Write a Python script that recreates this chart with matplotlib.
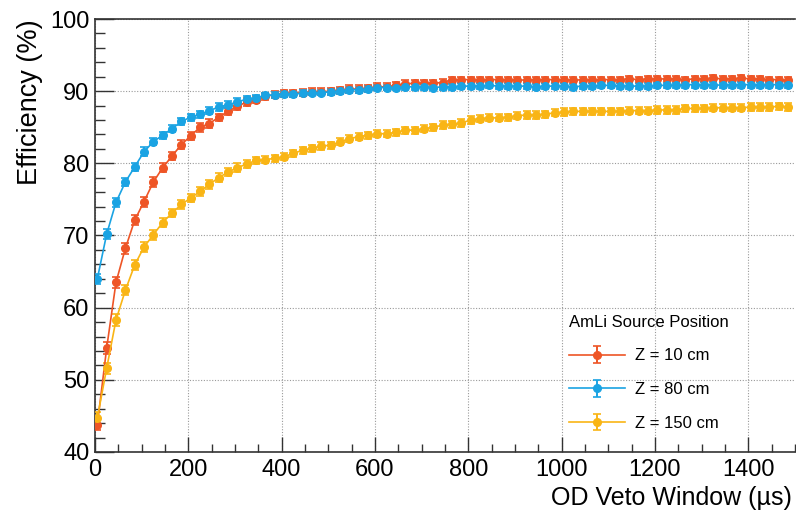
import matplotlib
matplotlib.use("Agg")
import matplotlib.pyplot as plt
from matplotlib.ticker import MultipleLocator

plt.rcParams['font.family'] = ['Liberation Sans', 'DejaVu Sans']

# ---- data ----
veto_window = [5, 25, 45, 65, 85, 105, 125, 145, 165, 185,
               205, 225, 245, 265, 285, 305, 325, 345, 365, 385,
               405, 425, 445, 465, 485, 505, 525, 545, 565, 585,
               605, 625, 645, 665, 685, 705, 725, 745, 765, 785,
               805, 825, 845, 865, 885, 905, 925, 945, 965, 985,
               1005, 1025, 1045, 1065, 1085, 1105, 1125, 1145, 1165, 1185,
               1205, 1225, 1245, 1265, 1285, 1305, 1325, 1345, 1365, 1385,
               1405, 1425, 1445, 1465, 1485]

eff_z10 = [43.8, 54.4, 63.5, 68.2, 72.1, 74.7, 77.4, 79.4, 81.0, 82.6,
           83.8, 85.0, 85.5, 86.4, 87.2, 87.9, 88.5, 88.8, 89.3, 89.5,
           89.7, 89.7, 89.8, 89.9, 89.9, 90.0, 90.1, 90.3, 90.3, 90.4,
           90.6, 90.6, 90.8, 91.0, 91.1, 91.1, 91.1, 91.2, 91.6, 91.6,
           91.6, 91.6, 91.6, 91.6, 91.6, 91.6, 91.5, 91.6, 91.6, 91.6,
           91.6, 91.5, 91.6, 91.6, 91.6, 91.6, 91.6, 91.7, 91.6, 91.7,
           91.7, 91.7, 91.7, 91.6, 91.7, 91.7, 91.8, 91.7, 91.7, 91.8,
           91.7, 91.7, 91.6, 91.6, 91.5]

eff_z80 = [64.0, 70.2, 74.6, 77.4, 79.5, 81.6, 83.0, 83.9, 84.8, 85.8,
           86.4, 86.8, 87.3, 87.8, 88.1, 88.5, 88.9, 89.1, 89.4, 89.5,
           89.6, 89.6, 89.7, 89.8, 89.8, 89.9, 90.0, 90.2, 90.2, 90.3,
           90.5, 90.5, 90.5, 90.6, 90.6, 90.6, 90.5, 90.6, 90.6, 90.7,
           90.7, 90.7, 90.8, 90.7, 90.7, 90.7, 90.7, 90.6, 90.7, 90.7,
           90.7, 90.6, 90.7, 90.7, 90.8, 90.8, 90.7, 90.7, 90.7, 90.7,
           90.8, 90.8, 90.8, 90.9, 90.9, 90.9, 90.9, 90.8, 90.9, 90.9,
           90.9, 90.9, 90.9, 90.9, 90.9]

eff_z150 = [44.7, 51.6, 58.3, 62.4, 65.9, 68.4, 70.1, 71.8, 73.1, 74.3,
            75.2, 76.1, 77.1, 78.0, 78.8, 79.4, 79.9, 80.4, 80.5, 80.7,
            80.9, 81.4, 81.8, 82.1, 82.4, 82.5, 83.0, 83.4, 83.7, 83.9,
            84.1, 84.1, 84.3, 84.6, 84.6, 84.8, 85.0, 85.3, 85.4, 85.6,
            86.0, 86.2, 86.3, 86.3, 86.4, 86.6, 86.7, 86.7, 86.8, 87.0,
            87.1, 87.2, 87.2, 87.2, 87.2, 87.2, 87.2, 87.3, 87.3, 87.3,
            87.4, 87.4, 87.4, 87.6, 87.6, 87.6, 87.7, 87.7, 87.7, 87.7,
            87.8, 87.8, 87.8, 87.9, 87.8]

err_z10 = [0.8, 0.8, 0.8, 0.7, 0.7, 0.7, 0.7, 0.6, 0.6, 0.6,
           0.6, 0.6, 0.6, 0.5, 0.5, 0.5, 0.5, 0.5, 0.5, 0.5,
           0.5, 0.5, 0.5, 0.5, 0.5, 0.5, 0.5, 0.5, 0.5, 0.5,
           0.5, 0.5, 0.5, 0.5, 0.5, 0.5, 0.5, 0.5, 0.4, 0.4,
           0.4, 0.4, 0.4, 0.4, 0.4, 0.4, 0.4, 0.4, 0.4, 0.4,
           0.4, 0.4, 0.4, 0.4, 0.4, 0.4, 0.4, 0.4, 0.4, 0.4,
           0.4, 0.4, 0.4, 0.4, 0.4, 0.4, 0.4, 0.4, 0.4, 0.4,
           0.4, 0.4, 0.4, 0.4, 0.4]

err_z80 = [0.7, 0.7, 0.6, 0.6, 0.6, 0.6, 0.5, 0.5, 0.5, 0.5,
           0.5, 0.5, 0.5, 0.5, 0.5, 0.5, 0.4, 0.4, 0.4, 0.4,
           0.4, 0.4, 0.4, 0.4, 0.4, 0.4, 0.4, 0.4, 0.4, 0.4,
           0.4, 0.4, 0.4, 0.4, 0.4, 0.4, 0.4, 0.4, 0.4, 0.4,
           0.4, 0.4, 0.4, 0.4, 0.4, 0.4, 0.4, 0.4, 0.4, 0.4,
           0.4, 0.4, 0.4, 0.4, 0.4, 0.4, 0.4, 0.4, 0.4, 0.4,
           0.4, 0.4, 0.4, 0.4, 0.4, 0.4, 0.4, 0.4, 0.4, 0.4,
           0.4, 0.4, 0.4, 0.4, 0.4]

err_z150 = [0.8, 0.8, 0.8, 0.7, 0.7, 0.7, 0.7, 0.6, 0.6, 0.6,
            0.6, 0.6, 0.6, 0.6, 0.6, 0.6, 0.5, 0.5, 0.5, 0.5,
            0.5, 0.5, 0.5, 0.5, 0.5, 0.5, 0.5, 0.5, 0.5, 0.5,
            0.5, 0.5, 0.5, 0.5, 0.5, 0.5, 0.5, 0.5, 0.5, 0.5,
            0.5, 0.5, 0.5, 0.5, 0.5, 0.5, 0.5, 0.5, 0.5, 0.5,
            0.5, 0.5, 0.5, 0.5, 0.5, 0.5, 0.5, 0.5, 0.5, 0.5,
            0.5, 0.5, 0.5, 0.5, 0.5, 0.5, 0.5, 0.5, 0.5, 0.5,
            0.5, 0.5, 0.5, 0.5, 0.5]

series_labels = ["Z = 10 cm", "Z = 80 cm", "Z = 150 cm"]
series_colors = ["#EE5526", "#1AA3E3", "#F9B515"]

# ---- figure ----
W, H = 796, 514
fig = plt.figure(figsize=(W / 100, H / 100), dpi=100)
left, right, top, bottom = 95, 795, 19, 452
ax = fig.add_axes([left / W, 1 - bottom / H, (right - left) / W, (bottom - top) / H])

for y, e, lab, col in zip([eff_z10, eff_z80, eff_z150],
                          [err_z10, err_z80, err_z150],
                          series_labels, series_colors):
    ax.errorbar(veto_window, y, yerr=e, color=col, marker='o', markersize=5.5,
                linewidth=1.2, elinewidth=1.4, capsize=2.6, capthick=1.2,
                label=lab, zorder=3)

ax.set_xlim(0, 1500)
ax.set_ylim(40, 100)
ax.xaxis.set_major_locator(MultipleLocator(200))
ax.xaxis.set_minor_locator(MultipleLocator(50))
ax.yaxis.set_major_locator(MultipleLocator(10))
ax.yaxis.set_minor_locator(MultipleLocator(2))

ax.grid(True, which='major', color='#9a9a9a', linestyle=(0, (1, 1.5)), linewidth=0.8, zorder=0)

ax.tick_params(axis='both', which='both', direction='in', colors='#333333',
               labelcolor='black', top=False, right=False)
ax.tick_params(axis='y', which='major', length=14, width=1.0, labelsize=17, pad=4)
ax.tick_params(axis='y', which='minor', length=7, width=1.0)
ax.tick_params(axis='x', which='major', length=11, width=1.0, labelsize=17, pad=5)
ax.tick_params(axis='x', which='minor', length=6, width=1.0)

for s in ['left', 'bottom', 'top']:
    ax.spines[s].set_color('#333333')
    ax.spines[s].set_linewidth(1.2)
ax.spines['right'].set_visible(False)

ax.set_xlabel("OD Veto Window (µs)", fontsize=18, ha='right', x=0.996, labelpad=4)
ax.set_ylabel("Efficiency (%)", fontsize=19.5, ha='right', y=1.0, labelpad=5)

leg = ax.legend(title="AmLi Source Position", loc='upper left',
                bbox_to_anchor=(557 / W, 1 - 303 / H), bbox_transform=fig.transFigure,
                frameon=False, fontsize=12, title_fontsize=12,
                handlelength=3.4, handletextpad=0.55, labelspacing=1.12,
                borderpad=0.2, alignment='left')

fig.savefig("out.png", dpi=100)
